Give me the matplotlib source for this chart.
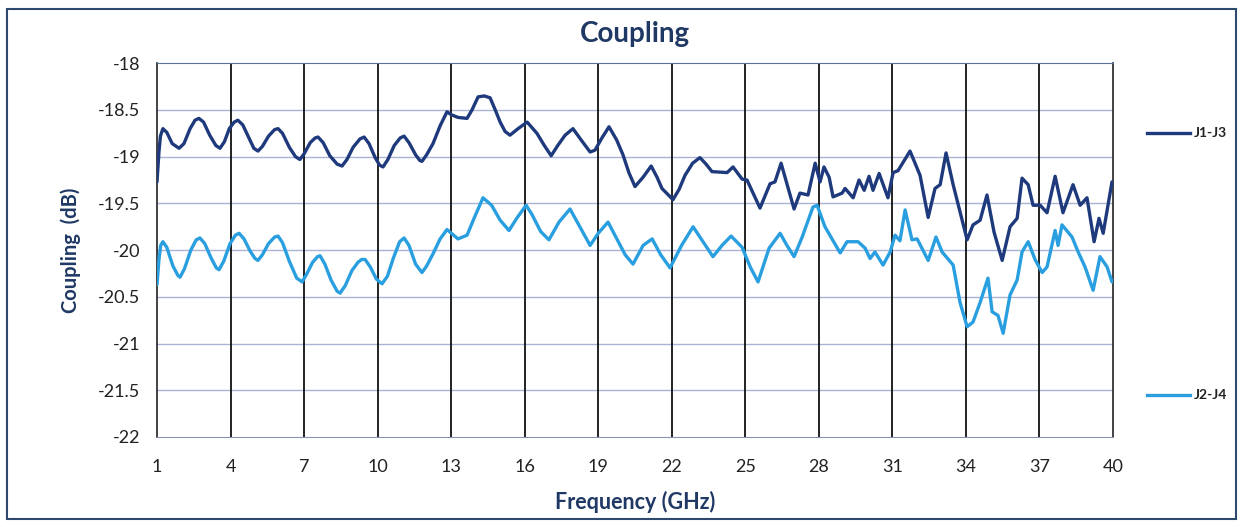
import matplotlib
matplotlib.use("Agg")
import matplotlib.pyplot as plt
from matplotlib.lines import Line2D
from matplotlib.patches import Rectangle

plt.rcParams['font.family'] = ['Lato', 'DejaVu Sans']

series_names = ["J1-J3", "J2-J4"]

freq_j13 = [1.00, 1.08, 1.14, 1.24, 1.40, 1.62, 1.90, 2.10, 2.35, 2.55, 2.71, 2.90, 3.15,
            3.40, 3.57, 3.75, 3.95, 4.15, 4.30, 4.50, 4.75, 4.95, 5.12, 5.30, 5.55, 5.80,
            5.94, 6.12, 6.40, 6.65, 6.83, 7.00, 7.25, 7.45, 7.57, 7.78, 8.05, 8.35, 8.55,
            8.75, 9.00, 9.28, 9.45, 9.65, 9.90, 10.08, 10.22, 10.42, 10.68, 10.92, 11.08,
            11.28, 11.55, 11.72, 11.81, 12.00, 12.26, 12.55, 12.83, 13.00, 13.28, 13.65,
            13.85, 14.10, 14.35, 14.59, 14.80, 15.00, 15.20, 15.40, 15.73, 16.10, 16.50,
            16.80, 17.08, 17.35, 17.65, 17.97, 18.30, 18.67, 18.87, 19.15, 19.44, 19.75,
            20.01, 20.25, 20.50, 20.83, 21.16, 21.40, 21.60, 22.05, 22.30, 22.54, 22.85,
            23.15, 23.40, 23.64, 24.26, 24.50, 24.87, 25.07, 25.60, 26.01, 26.21, 26.46,
            26.99, 27.23, 27.56, 27.85, 28.05, 28.21, 28.42, 28.58, 28.95, 29.07, 29.40,
            29.64, 29.85, 30.05, 30.21, 30.46, 30.82, 31.03, 31.23, 31.72, 32.13, 32.46,
            32.74, 32.95, 33.19, 33.48, 34.05, 34.29, 34.58, 34.86, 35.15, 35.48, 35.80,
            36.09, 36.29, 36.54, 36.74, 37.03, 37.31, 37.64, 37.96, 38.37, 38.66, 38.94,
            39.23, 39.43, 39.60, 39.96]
db_j13 = [-19.27, -18.95, -18.78, -18.70, -18.74, -18.86, -18.91, -18.86, -18.70, -18.61,
          -18.59, -18.63, -18.77, -18.88, -18.91, -18.84, -18.70, -18.63, -18.61, -18.66,
          -18.80, -18.91, -18.94, -18.89, -18.78, -18.71, -18.70, -18.75, -18.90, -19.00,
          -19.03, -18.97, -18.85, -18.80, -18.79, -18.85, -18.99, -19.08, -19.10, -19.03,
          -18.90, -18.81, -18.79, -18.86, -19.01, -19.09, -19.11, -19.03, -18.88, -18.80,
          -18.78, -18.85, -18.98, -19.04, -19.05, -18.98, -18.86, -18.67, -18.52, -18.55,
          -18.58, -18.59, -18.50, -18.36, -18.35, -18.37, -18.50, -18.63, -18.73, -18.77,
          -18.70, -18.63, -18.75, -18.88, -18.99, -18.88, -18.77, -18.70, -18.82, -18.95,
          -18.93, -18.80, -18.68, -18.82, -18.98, -19.17, -19.32, -19.22, -19.10, -19.22,
          -19.34, -19.46, -19.35, -19.20, -19.07, -19.01, -19.08, -19.16, -19.17, -19.11,
          -19.24, -19.25, -19.55, -19.29, -19.27, -19.07, -19.56, -19.39, -19.41, -19.07,
          -19.27, -19.11, -19.22, -19.43, -19.39, -19.34, -19.44, -19.25, -19.36, -19.21,
          -19.36, -19.18, -19.44, -19.17, -19.15, -18.94, -19.20, -19.65, -19.34, -19.30,
          -18.96, -19.30, -19.89, -19.73, -19.68, -19.41, -19.81, -20.11, -19.75, -19.66,
          -19.23, -19.30, -19.52, -19.52, -19.60, -19.21, -19.60, -19.30, -19.52, -19.44,
          -19.91, -19.66, -19.82, -19.27]

freq_j24 = [1.00, 1.08, 1.15, 1.24, 1.40, 1.65, 1.85, 1.94, 2.12, 2.38, 2.60, 2.75, 2.95,
            3.20, 3.42, 3.53, 3.72, 3.98, 4.20, 4.35, 4.55, 4.80, 5.00, 5.12, 5.30, 5.55,
            5.80, 5.94, 6.12, 6.40, 6.70, 6.92, 7.10, 7.35, 7.55, 7.65, 7.85, 8.10, 8.35,
            8.47, 8.68, 8.95, 9.20, 9.35, 9.49, 9.70, 9.95, 10.18, 10.40, 10.65, 10.90,
            11.08, 11.28, 11.55, 11.81, 12.00, 12.26, 12.55, 12.83, 13.28, 13.65, 13.95,
            14.30, 14.65, 15.00, 15.36, 15.70, 16.06, 16.30, 16.65, 16.99, 17.40, 17.85,
            18.25, 18.67, 19.00, 19.40, 19.80, 20.10, 20.42, 20.83, 21.20, 21.55, 21.93,
            22.40, 22.87, 23.30, 23.68, 24.05, 24.42, 24.87, 25.20, 25.52, 25.97, 26.42,
            26.70, 26.99, 27.32, 27.76, 27.93, 28.25, 28.87, 29.15, 29.60, 29.89, 30.09,
            30.29, 30.62, 30.91, 31.11, 31.31, 31.52, 31.80, 32.01, 32.46, 32.78, 33.03,
            33.48, 33.76, 34.05, 34.29, 34.58, 34.90, 35.07, 35.31, 35.52, 35.80, 36.09,
            36.29, 36.54, 36.82, 37.11, 37.31, 37.64, 37.76, 37.92, 38.33, 38.58, 38.86,
            39.19, 39.47, 39.76, 39.96]
db_j24 = [-20.37, -20.10, -19.95, -19.91, -19.97, -20.17, -20.27, -20.29, -20.20, -20.00,
          -19.89, -19.87, -19.93, -20.08, -20.19, -20.21, -20.12, -19.93, -19.84, -19.82,
          -19.88, -20.01, -20.09, -20.11, -20.05, -19.93, -19.86, -19.85, -19.92, -20.12,
          -20.30, -20.34, -20.26, -20.13, -20.07, -20.06, -20.15, -20.32, -20.44, -20.46,
          -20.38, -20.22, -20.13, -20.10, -20.10, -20.18, -20.31, -20.36, -20.28, -20.08,
          -19.91, -19.87, -19.95, -20.15, -20.24, -20.17, -20.04, -19.88, -19.78, -19.88,
          -19.84, -19.65, -19.44, -19.52, -19.68, -19.79, -19.65, -19.52, -19.62, -19.80,
          -19.89, -19.70, -19.56, -19.75, -19.95, -19.82, -19.70, -19.90, -20.05, -20.15,
          -19.95, -19.88, -20.05, -20.19, -19.95, -19.75, -19.92, -20.07, -19.95, -19.85,
          -19.97, -20.18, -20.34, -19.98, -19.82, -19.95, -20.07, -19.86, -19.54, -19.52,
          -19.75, -20.03, -19.91, -19.91, -19.98, -20.09, -20.02, -20.16, -20.02, -19.84,
          -19.90, -19.57, -19.89, -19.88, -20.11, -19.86, -20.02, -20.16, -20.56, -20.82,
          -20.77, -20.56, -20.30, -20.66, -20.70, -20.89, -20.48, -20.32, -20.02, -19.91,
          -20.10, -20.24, -20.18, -19.79, -19.95, -19.73, -19.86, -20.02, -20.18, -20.43,
          -20.07, -20.18, -20.34]

x_ticks = [1, 4, 7, 10, 13, 16, 19, 22, 25, 28, 31, 34, 37, 40]
y_ticks = [-22, -21.5, -21, -20.5, -20, -19.5, -19, -18.5, -18]
y_tick_labels = ["-22", "-21.5", "-21", "-20.5", "-20", "-19.5", "-19", "-18.5", "-18"]

c_dark = "#1f3a7c"
c_light = "#2a9fe0"
navy = "#1f3864"

fig = plt.figure(figsize=(12.43, 5.27), dpi=100)
fig.patch.set_facecolor("white")
fig.add_artist(Rectangle((0.006, 0.015), 0.988, 0.968, transform=fig.transFigure,
                         fill=False, edgecolor="#2d4a6e", linewidth=1.5))

ax = fig.add_axes([0.1263, 0.1708, 0.7691, 0.7092])
ax.set_xlim(1, 40)
ax.set_ylim(-22, -18)
ax.set_xticks(x_ticks)
ax.set_yticks(y_ticks)
ax.set_yticklabels(y_tick_labels)
for y in y_ticks[1:-1]:
    ax.axhline(y, color="#a9b3d6", linewidth=1.0, zorder=1)
for x in x_ticks[1:-1]:
    ax.axvline(x, color="#111111", linewidth=1.3, zorder=1)

ax.plot(freq_j13, db_j13, color=c_dark, linewidth=2.4, zorder=3,
        solid_joinstyle="round", solid_capstyle="round")
ax.plot(freq_j24, db_j24, color=c_light, linewidth=2.4, zorder=3,
        solid_joinstyle="round", solid_capstyle="round")

for s in ["left", "right"]:
    ax.spines[s].set_color("#222222")
    ax.spines[s].set_linewidth(1.2)
ax.spines["top"].set_color("#5a6e9a")
ax.spines["bottom"].set_color("#8a94b0")
ax.tick_params(axis="both", length=0, labelsize=13, colors="#222222")
ax.tick_params(axis="x", pad=16)
ax.tick_params(axis="y", pad=12)

ax.set_title("Coupling", fontsize=20, fontweight="bold", color=navy, pad=15)
ax.set_xlabel("Frequency (GHz)", fontsize=15.5, fontweight="bold", color=navy, labelpad=11)
ax.set_ylabel("Coupling  (dB)", fontsize=14.5, fontweight="bold", color=navy, labelpad=12)

# legend entries at the right side
leg_y = [1 - 133 / 527, 1 - 395 / 527]
for name, col, yy in zip(series_names, [c_dark, c_light], leg_y):
    fig.add_artist(Line2D([1147 / 1243, 1190 / 1243], [yy, yy], transform=fig.transFigure,
                          color=col, linewidth=2.4))
    fig.text(1194 / 1243, yy, name, fontsize=10, fontweight="bold", color="#222222",
             va="center", ha="left")

fig.savefig("out.png", dpi=100)
